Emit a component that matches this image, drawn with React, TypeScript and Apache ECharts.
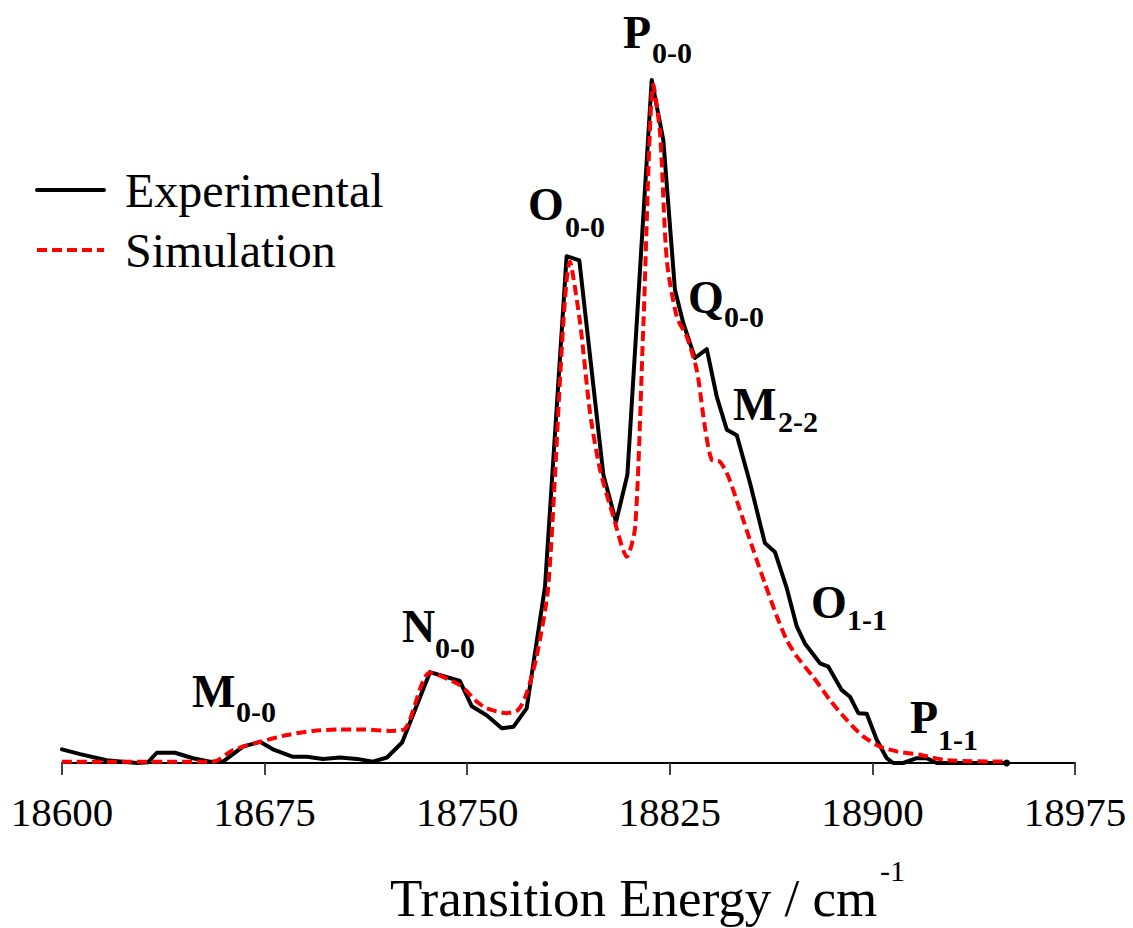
import React, { useEffect, useRef } from "react";
import * as echarts from "echarts";

// Experimental excitation spectrum (normalised intensity vs. transition energy, cm^-1)
const expEnergy = [
  18600.0, 18606.7, 18616.5, 18627.7, 18631.8, 18635.1, 18641.8, 18648.5, 18654.8, 18659.6,
  18667.0, 18673.3, 18678.1, 18685.5, 18690.7, 18696.6, 18702.9, 18709.2, 18715.1, 18720.3,
  18725.9, 18736.2, 18747.3, 18751.7, 18757.2, 18762.8, 18767.1, 18772.0, 18778.8, 18786.8,
  18791.5, 18800.4, 18805.1, 18809.3, 18818.3, 18822.6, 18826.9, 18830.0, 18834.3, 18838.7,
  18842.4, 18846.1, 18849.8, 18854.7, 18860.2, 18863.9, 18868.3, 18872.0, 18875.0, 18880.6,
  18883.7, 18888.6, 18891.7, 18894.8, 18897.9, 18901.6, 18905.3, 18907.7, 18911.4, 18916.4,
  18920.1, 18923.8, 18949.7,
];
const expIntensity = [
  0.020, 0.013, 0.004, 0.000, 0.001, 0.015, 0.015, 0.007, 0.002, 0.002,
  0.024, 0.031, 0.020, 0.009, 0.009, 0.006, 0.008, 0.006, 0.002, 0.008,
  0.030, 0.133, 0.120, 0.083, 0.070, 0.051, 0.053, 0.080, 0.258, 0.742,
  0.736, 0.422, 0.353, 0.422, 1.000, 0.912, 0.693, 0.644, 0.593, 0.606,
  0.536, 0.488, 0.480, 0.410, 0.322, 0.309, 0.256, 0.200, 0.175, 0.146,
  0.141, 0.107, 0.097, 0.073, 0.072, 0.034, 0.007, 0.000, 0.000, 0.007,
  0.007, 0.000, 0.000,
];

// Simulated contour
const simEnergy = [
  18600.0, 18655.9, 18663.3, 18673.3, 18683.3, 18692.9, 18702.9, 18711.4, 18721.4, 18727.0,
  18736.2, 18747.3, 18753.5, 18757.2, 18764.6, 18768.9, 18772.0, 18775.7, 18780.0, 18788.1,
  18791.8, 18795.5, 18799.2, 18804.1, 18809.1, 18812.2, 18815.2, 18818.9, 18821.4, 18823.9,
  18827.6, 18831.3, 18835.0, 18838.0, 18840.5, 18843.6, 18846.7, 18851.0, 18855.9, 18860.2,
  18864.6, 18868.3, 18872.0, 18878.1, 18884.3, 18890.5, 18896.6, 18902.8, 18909.0, 18917.6,
  18927.5, 18949.7,
];
const simIntensity = [
  0.002, 0.002, 0.019, 0.031, 0.041, 0.047, 0.049, 0.049, 0.047, 0.050,
  0.132, 0.114, 0.090, 0.080, 0.073, 0.078, 0.102, 0.156, 0.258, 0.734,
  0.644, 0.512, 0.429, 0.361, 0.302, 0.346, 0.639, 0.993, 0.922, 0.736,
  0.653, 0.624, 0.575, 0.492, 0.444, 0.441, 0.419, 0.370, 0.312, 0.263,
  0.215, 0.180, 0.156, 0.126, 0.092, 0.063, 0.039, 0.024, 0.017, 0.012,
  0.004, 0.002,
];

const seriesNames = ["Experimental", "Simulation"];
const axisTitle = "Transition Energy / cm";
const axisTitleSup = "-1";

// Band assignments: branch letter and vibrational subscript
const bandLetters = ["M", "N", "O", "P", "Q", "M", "O", "P"];
const bandSubs = ["0-0", "0-0", "0-0", "0-0", "0-0", "2-2", "1-1", "1-1"];

// Annotation layout (left edge and baseline of letter / subscript, in px)
const bandLayout = [
  { x: 192, y: 707, sx: 236, sy: 722 },
  { x: 402, y: 642, sx: 435, sy: 658 },
  { x: 528, y: 220, sx: 565, sy: 237 },
  { x: 623, y: 48, sx: 652, sy: 63 },
  { x: 688, y: 313, sx: 724, sy: 327 },
  { x: 733, y: 420, sx: 778, sy: 432 },
  { x: 811, y: 618, sx: 847, sy: 630 },
  { x: 910, y: 733, sx: 938, sy: 750 },
];

const FONT = "'Liberation Serif', 'Times New Roman', serif";

export default function App() {
  const ref = useRef<HTMLDivElement>(null);

  useEffect(() => {
    if (!ref.current) return;
    const chart = echarts.init(ref.current, undefined, { renderer: "svg" });

    const mainSize = 46;
    const subSize = 30;
    const graphics: any[] = [];
    bandLetters.forEach((letter, i) => {
      const p = bandLayout[i];
      graphics.push({
        type: "text",
        x: p.x,
        y: p.y - 0.3375 * mainSize,
        style: {
          text: letter,
          font: `bold ${mainSize}px ${FONT}`,
          fill: "#000",
          textAlign: "left",
          textVerticalAlign: "middle",
        },
      });
      graphics.push({
        type: "text",
        x: p.sx,
        y: p.sy - 0.3375 * subSize,
        style: {
          text: bandSubs[i],
          font: `bold ${subSize}px ${FONT}`,
          fill: "#000",
          textAlign: "left",
          textVerticalAlign: "middle",
        },
      });
    });

    // axis title with superscript unit
    const titleSize = 53;
    const supSize = 30;
    graphics.push({
      type: "text",
      x: 390,
      y: 916 - 0.3375 * titleSize,
      style: {
        text: axisTitle,
        font: `${titleSize}px ${FONT}`,
        fill: "#000",
        textAlign: "left",
        textVerticalAlign: "middle",
      },
    });
    graphics.push({
      type: "text",
      x: 880,
      y: 881 - 0.3375 * supSize,
      style: {
        text: axisTitleSup,
        font: `${supSize}px ${FONT}`,
        fill: "#000",
        textAlign: "left",
        textVerticalAlign: "middle",
      },
    });

    const expData: any[] = expEnergy.map((e, i) => [e, expIntensity[i]]);
    // the recorded trace ends in a small dot
    const lastIdx = expData.length - 1;
    expData[lastIdx] = { value: expData[lastIdx], symbol: "circle", symbolSize: 7 };

    chart.setOption({
      animation: false,
      backgroundColor: "#fff",
      grid: { left: 62, right: 58, top: 80, bottom: 165, containLabel: false },
      legend: {
        orient: "vertical",
        left: 35,
        top: 166,
        padding: 0,
        itemWidth: 67,
        itemHeight: 14,
        itemGap: 12,
        data: seriesNames,
        itemStyle: { opacity: 0 },
        lineStyle: { width: 4 },
        textStyle: {
          fontFamily: FONT,
          fontSize: 48,
          color: "#000",
          padding: [0, 0, 0, 16],
        },
      },
      xAxis: {
        type: "value",
        min: 18600,
        max: 18975,
        interval: 75,
        axisLine: { show: true, onZero: false, lineStyle: { color: "#000", width: 2 } },
        axisTick: { show: true, inside: false, length: 12, lineStyle: { color: "#444", width: 2 } },
        axisLabel: {
          fontFamily: FONT,
          fontSize: 41,
          color: "#000",
          margin: 28,
          formatter: (v: number) => String(v),
        },
        splitLine: { show: false },
      },
      yAxis: { type: "value", min: 0, max: 1, show: false },
      series: [
        {
          name: seriesNames[0],
          type: "line",
          data: expData,
          symbol: "none",
          showSymbol: true,
          lineStyle: { color: "#000", width: 4, cap: "round", join: "round" },
          itemStyle: { color: "#000" },
          z: 2,
        },
        {
          name: seriesNames[1],
          type: "line",
          data: simEnergy.map((e, i) => [e, simIntensity[i]]),
          symbol: "none",
          smooth: 0.25,
          lineStyle: { color: "#ff0000", width: 4, type: [10, 5] },
          itemStyle: { color: "#ff0000" },
          z: 3,
        },
      ],
      graphic: graphics,
    });

    return () => chart.dispose();
  }, []);

  return (
    <div
      ref={ref}
      style={{ position: "fixed", left: 0, top: 0, width: 1133, height: 928, background: "#fff" }}
    />
  );
}
